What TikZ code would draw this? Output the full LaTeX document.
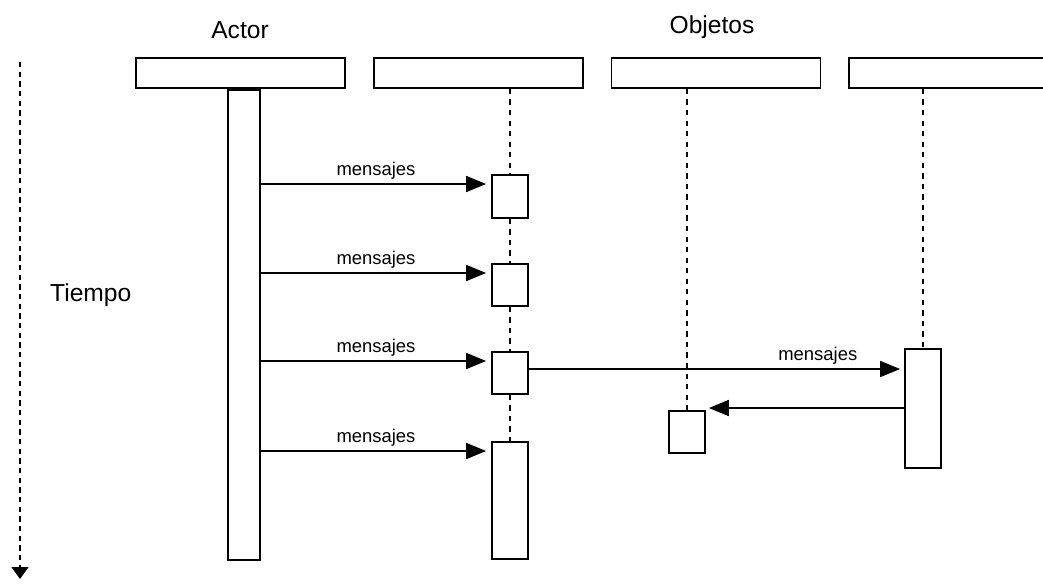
\documentclass[tikz,border=0pt]{standalone}
\usepackage{fontspec}
\setmainfont{Liberation Sans}
\usetikzlibrary{arrows.meta, positioning, calc}

\begin{document}
\begin{tikzpicture}[node distance=0.54cm,
    hdr/.style={rectangle, draw, line width=1pt, minimum width=4.18cm, minimum height=0.6cm, inner sep=0pt},
    act/.style={rectangle, draw, line width=1pt, minimum width=0.72cm, inner sep=0pt, anchor=north},
    life/.style={line width=1pt, dash pattern=on 3pt off 3pt},
    msg/.style={-{Triangle[length=0.4cm,width=0.32cm]}, line width=1pt},
    lbl/.style={above, inner sep=2pt, font=\fontsize{10.5}{13}\selectfont},
    ttl/.style={font=\fontsize{14}{16}\selectfont}]
\useasboundingbox (0,0) rectangle (20.86,-11.68);
% titles
\node[ttl] (actortxt) at (4.8,-0.6) {Actor};
\node[ttl] (objtxt) at (14.24,-0.54) {Objetos};
% header boxes
\node[hdr] (hdrA) at (4.81,-1.46) {};
\node[hdr, right=of hdrA] (hdrB) {};
\node[hdr, right=of hdrB] (hdrC) {};
\node[hdr, right=of hdrC] (hdrD) {};
% actor bar and activations
\node[act, minimum width=0.64cm, minimum height=9.4cm] (actor) at (hdrA.south -| 4.88,0) {};
\node[act, minimum height=0.86cm] (actB1) at (10.2,-3.48) {};
\node[act, minimum height=0.84cm] (actB2) at (10.2,-5.26) {};
\node[act, minimum height=0.84cm] (actB3) at (10.2,-7.02) {};
\node[act, minimum height=2.34cm] (actB4) at (10.2,-8.82) {};
\node[act, minimum height=0.84cm] (actC) at (13.74,-8.2) {};
\node[act, minimum height=2.38cm] (actD) at (18.46,-6.96) {};
% lifelines
\draw[life] (hdrB.south -| actB1.north) -- (actB1.north);
\foreach \a/\b in {actB1/actB2, actB2/actB3, actB3/actB4}
    \draw[life] (\a.south) -- (\b.north);
\draw[life] (hdrC.south -| actC.north) -- (actC.north);
\draw[life] (hdrD.south -| actD.north) -- (actD.north);
% messages
\foreach \b in {actB1, actB2, actB3, actB4}
    \draw[msg, shorten >=0.1cm] (actor.east |- {$(\b.north west)+(0,-0.2)$}) -- ($(\b.north west)+(0,-0.2)$)
        node[lbl, midway] {mensajes};
\coordinate (m5) at ($(actD.north west)+(0,-0.42)$);
\draw[msg, shorten >=0.08cm] (actB3.east |- m5) -- (m5) node[lbl, pos=0.77] {mensajes};
\coordinate (m6) at ($(actC.north east)+(0,0.04)$);
\draw[msg, shorten >=0.06cm] (actD.west |- m6) -- (m6);
% time axis
\coordinate (t0) at (0.4,-1.24);
\coordinate (t1) at (0.4,-11.58);
\draw[line width=0.8pt, dash pattern=on 3pt off 2.5pt, -{Triangle[length=0.24cm,width=0.34cm]}] (t0) -- (t1);
\node[ttl, anchor=west] (tiempo) at (0.88,-5.9) {Tiempo};
\end{tikzpicture}
\end{document}
